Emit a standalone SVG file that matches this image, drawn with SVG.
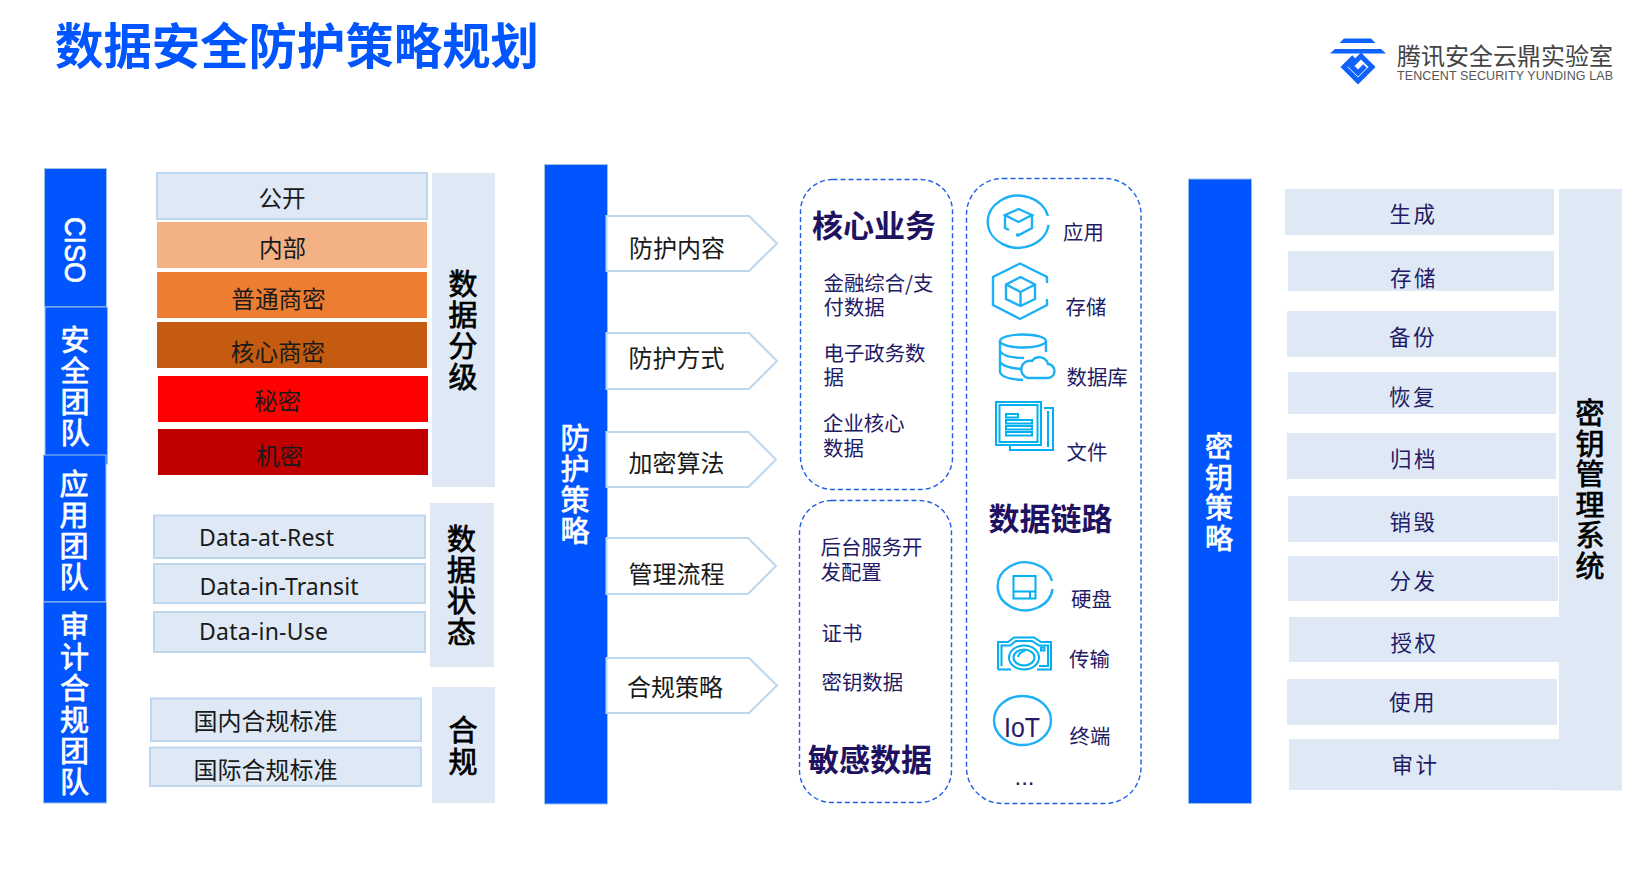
<svg xmlns="http://www.w3.org/2000/svg" width="1639" height="869" viewBox="0 0 1639 869">
<style>
text{font-family:"Noto Sans CJK SC","Noto Sans",sans-serif;dominant-baseline:central;transform:translateY(-1px)}
.bar{fill:#0055ff;stroke:#9dc3e6;stroke-width:1}
.lat{font-family:"Noto Sans","Noto Sans CJK SC",sans-serif}
.lt{fill:#dee9f5}
.ltb{fill:#dee9f5;stroke:#bdd7ee;stroke-width:2}
.v{writing-mode:vertical-rl;font-size:29px;letter-spacing:2px;transform:none;stroke-width:.75px}
.wv{fill:#fff;stroke:#fff}
.bv{fill:#000;stroke:#000}
.c{fill:#1a1a1a;font-size:23.6px;text-anchor:middle}
.s{fill:#1a1a1a;font-size:24px}
.d{fill:#1a1a1a;font-size:23px}
.ar{fill:#fff;stroke:#bdd7ee;stroke-width:2}
.at{fill:#1a1a1a;font-size:24px}
.dash{fill:#fff;stroke:#1f5fe8;stroke-width:1.4;stroke-dasharray:5 3}
.h{fill:#1f1361;font-size:31px;font-weight:700}
.i{fill:#241a66;font-size:20.4px}
.k{fill:#241a66;font-size:21.5px;letter-spacing:2.5px;text-anchor:middle}
.ic{fill:none;stroke:#1cb0f6;stroke-width:2.4}
.ic2{fill:none;stroke:#00b0f0;stroke-width:2}
</style>
<g id="title"><text x="55" y="44" style="font-size:48.4px;font-weight:700;fill:#0055ff">数据安全防护策略规划</text></g>
<g id="logo">
<polygon points="1344,38.5 1371,38.5 1375.5,43 1339.5,43" fill="#0f62fe"/>
<polygon points="1335,49 1381,49 1386,53.5 1330,53.5" fill="#0f62fe"/>
<path d="M1354,57 L1344,67 L1358,81 L1372,67 L1361,56 L1351,66 L1358,73 L1365,66" fill="none" stroke="#0f62fe" stroke-width="5"/>
<text x="1397" y="55" style="font-size:24px;fill:#444">腾讯安全云鼎实验室</text>
<text x="1397" y="76.5" textLength="216" lengthAdjust="spacing" style="font-size:12.5px;fill:#555;font-family:'Liberation Sans',sans-serif">TENCENT SECURITY YUNDING LAB</text>
</g>

<g id="team-ciso"><rect class="bar" x="44.5" y="168.5" width="62" height="138.5"/><text class="v wv" x="75" y="217" textLength="66" lengthAdjust="spacingAndGlyphs" style="font-size:30px;letter-spacing:0;font-family:'Liberation Sans',sans-serif">CISO</text></g>
<g id="team-security"><rect class="bar" x="45" y="307" width="62.5" height="157"/><text class="v wv" x="75" y="325">安全团队</text></g>
<g id="team-app"><rect class="bar" x="43.5" y="455" width="62.5" height="147"/><text class="v wv" x="74" y="469">应用团队</text></g>
<g id="team-audit"><rect class="bar" x="43.5" y="602" width="63" height="201"/><text class="v wv" x="74.5" y="611.5" style="letter-spacing:2.2px">审计合规团队</text></g>

<g id="level-public"><rect class="ltb" x="157" y="173" width="270" height="46"/><text class="c" x="282" y="198">公开</text></g>
<g id="level-internal"><rect fill="#f4b183" x="157" y="222" width="270" height="46"/><text class="c" x="282.5" y="248">内部</text></g>
<g id="level-normal"><rect fill="#ed7d31" x="157" y="272" width="270" height="46"/><text class="c" x="278.5" y="299">普通商密</text></g>
<g id="level-core"><rect fill="#c55a11" x="157" y="322" width="270" height="46"/><text class="c" x="278" y="351.5">核心商密</text></g>
<g id="level-secret"><rect fill="#ff0000" x="158" y="376" width="270" height="46"/><text class="c" x="277.5" y="400.5">秘密</text></g>
<g id="level-confidential"><rect fill="#c00000" x="158" y="429" width="270" height="46"/><text class="c" x="279.5" y="456">机密</text></g>
<g id="label-classification"><rect class="lt" x="432" y="173" width="63" height="314"/><text class="v bv" x="463" y="269.5">数据分级</text></g>

<g id="state-rest"><rect class="ltb" x="154" y="515.5" width="271" height="42.5"/><text class="d lat" x="199" y="537.5" textLength="135">Data-at-Rest</text></g>
<g id="state-transit"><rect class="ltb" x="154" y="564" width="271" height="39"/><text class="d lat" x="199.5" y="586.5" textLength="159">Data-in-Transit</text></g>
<g id="state-use"><rect class="ltb" x="154" y="612" width="271" height="40"/><text class="d lat" x="199" y="631.5" textLength="129">Data-in-Use</text></g>
<g id="label-state"><rect class="lt" x="430" y="503" width="64" height="164"/><text class="v bv" x="461.5" y="524.5">数据状态</text></g>

<g id="std-domestic"><rect class="ltb" x="151" y="698.5" width="270" height="42.5"/><text class="s" x="193.5" y="720.5">国内合规标准</text></g>
<g id="std-intl"><rect class="ltb" x="150" y="747.5" width="271" height="38.5"/><text class="s" x="193.5" y="769">国际合规标准</text></g>
<g id="label-compliance"><rect class="lt" x="432" y="687" width="63" height="116"/><text class="v bv" x="463" y="715" style="letter-spacing:3px">合规</text></g>

<g id="strategy-bar"><rect class="bar" x="544.5" y="164.5" width="63" height="639.5"/><text class="v wv" x="575" y="423">防护策略</text></g>
<g id="arrow-content"><polygon class="ar" points="606.5,216 749,216 777,243.5 749,271 606.5,271"/><text class="at" x="629" y="247.5">防护内容</text></g>
<g id="arrow-method"><polygon class="ar" points="606.5,333 749,333 777,361 749,389 606.5,389"/><text class="at" x="628.5" y="357">防护方式</text></g>
<g id="arrow-algo"><polygon class="ar" points="606.5,432 748.5,432 776,459.5 748.5,487 606.5,487"/><text class="at" x="628.5" y="462">加密算法</text></g>
<g id="arrow-process"><polygon class="ar" points="606.5,538 748,538 776,566 748,594 606.5,594"/><text class="at" x="628.5" y="573">管理流程</text></g>
<g id="arrow-compliance"><polygon class="ar" points="606.5,658 749,658 777,685.5 749,713 606.5,713"/><text class="at" x="627" y="686">合规策略</text></g>

<g id="core-business"><rect class="dash" x="800.5" y="179.5" width="152" height="310" rx="32"/>
<text class="h" x="812" y="224">核心业务</text>
<text class="i"><tspan x="823.5" y="282.5">金融综合/支</tspan><tspan x="823.5" y="307">付数据</tspan></text>
<text class="i"><tspan x="823.5" y="352.5">电子政务数</tspan><tspan x="823.5" y="377">据</tspan></text>
<text class="i"><tspan x="823" y="423">企业核心</tspan><tspan x="823" y="448">数据</tspan></text></g>

<g id="sensitive-data"><rect class="dash" x="799.5" y="500.5" width="152" height="302" rx="32"/>
<text class="i"><tspan x="820.5" y="546.5">后台服务开</tspan><tspan x="820.5" y="571.5">发配置</tspan></text>
<text class="i" x="821.5" y="632.5">证书</text>
<text class="i" x="821.5" y="682">密钥数据</text>
<text class="h" x="808" y="758">敏感数据</text></g>

<g id="data-path"><rect class="dash" x="966.5" y="178.5" width="174.5" height="625" rx="36"/>
<text class="h" x="988.5" y="517">数据链路</text></g>

<g id="item-app">
<path class="ic" d="M1048.5,225 A30.5,26 0 1 1 1048,216"/>
<path class="ic" stroke-width="2.2" d="M1005,215 L1018.5,209 L1032,215 L1018.5,222 Z M1005,215 V228 L1009,230 M1032,215 V228 L1019,235 H1016"/>
<circle cx="1018" cy="235" r="1.8" fill="#1cb0f6"/>
<text class="i" x="1063" y="231.5">应用</text></g>

<g id="item-storage">
<path class="ic" stroke="#2aa5f5" d="M1047,299 V305 L1020,319 L993,305 V277 L1020,263.5 L1047,277 V283"/>
<path class="ic" d="M1020.5,277 L1035,284.5 V299 L1020.5,306 L1006,299 V284.5 Z M1006,284.5 L1020.5,292 L1035,284.5 M1020.5,292 V306"/>
<text class="i" x="1065.5" y="306.5">存储</text></g>

<g id="item-database">
<ellipse class="ic" cx="1023" cy="341" rx="23" ry="6.5"/>
<path class="ic" d="M1000,341 V372 Q1002,379 1023,380 M1046,341 V352 M1000,351 Q1004,358 1024,358 M1000,362 Q1004,368 1022,369"/>
<path class="ic" d="M1028,378 H1047 A7,7 0 0 0 1048,364 A9,9 0 0 0 1032,361 A8.5,8.5 0 0 0 1028,378 Z"/>
<text class="i" x="1066.5" y="376.5">数据库</text></g>

<g id="item-file">
<rect class="ic2" x="996" y="402" width="45" height="43"/><rect class="ic2" x="999.5" y="405" width="38" height="37"/>
<path class="ic2" d="M1044,408 H1053 V450 H1010 V445"/>
<path class="ic2" d="M1048,411 V447" stroke-width="1.5"/>
<rect class="ic2" x="1006" y="414" width="12" height="3.5" stroke-width="1.5"/><rect class="ic2" x="1006" y="420" width="26" height="3.5" stroke-width="1.5"/><rect class="ic2" x="1006" y="426" width="26" height="3.5" stroke-width="1.5"/><rect class="ic2" x="1006" y="432" width="26" height="3.5" stroke-width="1.5"/>
<text class="i" x="1066.5" y="451.5">文件</text></g>

<g id="item-disk">
<path class="ic" d="M1052,589 A27.5,24 0 1 1 1051.5,581" transform="translate(0.5 0)"/>
<path class="ic2" d="M1013.5,576 H1035.5 V598.5 H1013.5 Z M1013.5,591.5 H1035.5 M1030,591.5 V598.5" stroke-width="2.2"/>
<text class="i" x="1071" y="599">硬盘</text></g>

<g id="item-transfer">
<path class="ic2" d="M998,669.5 V642 H1008 L1014,637.5 H1034 L1041,642 H1051 V669.5 H1037 M1011,669.5 H998 M1001.5,666 V645.5 H1010 L1016,641 H1032 L1039,645.5 H1048 V666 H1039"/>
<ellipse class="ic2" cx="1024" cy="657.5" rx="15" ry="12"/><ellipse class="ic2" cx="1024" cy="657.5" rx="10.5" ry="8"/>
<path class="ic2" d="M1018,657 Q1019,652 1025,651" stroke-width="1.5"/>
<rect class="ic2" x="1041" y="647.5" width="3.5" height="3" stroke-width="1.3"/>
<text class="i" x="1069" y="659">传输</text></g>

<g id="item-terminal">
<ellipse class="ic" cx="1022.5" cy="720.5" rx="28.5" ry="24.5"/>
<text x="1004" y="728" textLength="36" lengthAdjust="spacingAndGlyphs" style="font-size:28px;fill:#241a66;font-family:'Liberation Sans',sans-serif">IoT</text>
<text class="i" x="1069.5" y="736">终端</text></g>

<g id="item-more"><text x="1024.5" y="777" style="font-size:24px;fill:#241a66;text-anchor:middle;font-family:'Liberation Sans',sans-serif">...</text></g>

<g id="key-strategy"><rect class="bar" x="1188.5" y="179" width="63" height="624.5"/><text class="v wv" x="1219" y="432.5" style="font-size:28px;letter-spacing:2.5px">密钥策略</text></g>

<g id="kms-label"><rect class="lt" x="1559" y="189" width="63" height="601.5"/><text class="v bv" x="1590" y="398.5" style="letter-spacing:1.6px">密钥管理系统</text></g>
<g id="key-generate"><rect class="lt" x="1285" y="189" width="269" height="46"/><text class="k" x="1413.5" y="213">生成</text></g>
<g id="key-store"><rect class="lt" x="1288" y="251" width="266" height="40"/><text class="k" x="1414" y="277">存储</text></g>
<g id="key-backup"><rect class="lt" x="1287" y="311" width="269" height="46"/><text class="k" x="1413" y="336.5">备份</text></g>
<g id="key-restore"><rect class="lt" x="1288" y="372" width="268" height="42"/><text class="k" x="1413" y="396.5">恢复</text></g>
<g id="key-archive"><rect class="lt" x="1287" y="433" width="269" height="46"/><text class="k" x="1414" y="458.5">归档</text></g>
<g id="key-destroy"><rect class="lt" x="1288" y="496" width="270" height="46"/><text class="k" x="1413.5" y="521">销毁</text></g>
<g id="key-distribute"><rect class="lt" x="1288" y="556" width="270" height="45"/><text class="k" x="1413.5" y="580">分发</text></g>
<g id="key-authorize"><rect class="lt" x="1289" y="617" width="270" height="45"/><text class="k" x="1414.5" y="642.5">授权</text></g>
<g id="key-use"><rect class="lt" x="1287" y="679" width="270" height="46"/><text class="k" x="1413" y="701.5">使用</text></g>
<g id="key-audit"><rect class="lt" x="1289" y="739" width="270" height="51"/><text class="k" x="1415.5" y="764.5">审计</text></g>
</svg>
